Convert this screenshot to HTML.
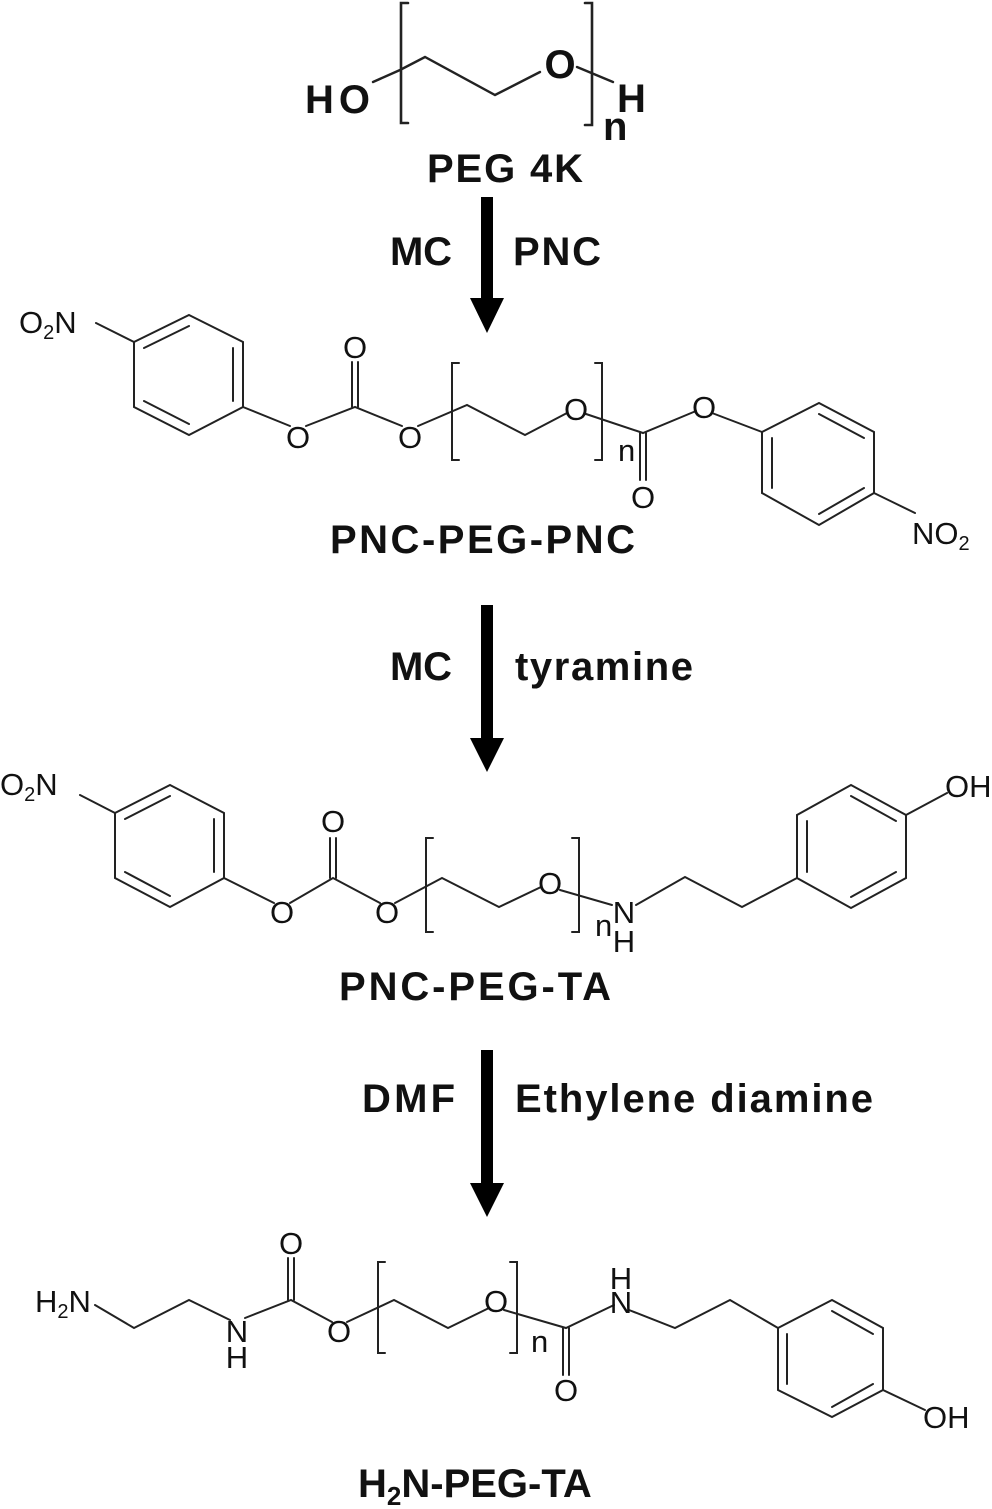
<!DOCTYPE html>
<html><head><meta charset="utf-8"><style>
html,body{margin:0;padding:0;background:#fff;}
svg{display:block;}
.b{stroke:#222;stroke-width:2;fill:none;stroke-linecap:round;}
.a{font-family:"Liberation Sans",sans-serif;font-size:31px;fill:#111;}
.t{font-family:"Liberation Sans",sans-serif;font-size:40px;font-weight:bold;fill:#111;}
.r{font-family:"Liberation Sans",sans-serif;font-size:40px;font-weight:bold;fill:#111;}
</style></head><body>
<svg width="992" height="1509" viewBox="0 0 992 1509" xmlns="http://www.w3.org/2000/svg">
<!-- PEG 4K -->
<text class="t" x="305" y="113" font-size="44" textLength="65">HO</text>
<path class="b" style="stroke-width:2.4" d="M373,82 L400,70 L425,57 L495,95 L540,72 M577,67 L613,82"/>
<path class="b" style="stroke-width:2.6" d="M408,3 L401,3 L401,123 L408,123 M585,3 L592,3 L592,125 L585,125"/>
<text class="t" x="560" y="78" text-anchor="middle" font-size="46">O</text>
<text class="t" x="617" y="112" font-size="44">H</text>
<text class="t" x="603" y="140" font-size="32">n</text>
<text class="t" x="505" y="182" text-anchor="middle" textLength="156">PEG 4K</text>

<!-- arrow 1 -->
<rect x="481" y="197" width="12" height="105" fill="#000"/>
<polygon points="470,298 504,298 487,333" fill="#000"/>
<text class="r" x="390" y="265" textLength="62">MC</text>
<text class="r" x="513" y="265" textLength="88">PNC</text>

<!-- PNC-PEG-PNC -->
<text class="a" x="19" y="333">O<tspan font-size="20" dy="6">2</tspan><tspan dy="-6">N</tspan></text>
<path class="b" d="M96,323 L134,342 M189,315 L243,342 L243,407 L189,435 L134,407 L134,342 Z M189,326 L144,348 M233,348 L233,401 M189,424 L144,401"/>
<path class="b" d="M243,407 L290,426 M306,426 L355,407 L402,426 M352,407 L352,362 M358,407 L358,362 M418,426 L467,405 L525,435 L567,413 M586,414 L643,433 L696,411 M640,433 L640,480 M646,433 L646,480 M712,413 L762,432"/>
<path class="b" d="M459,363 L452,363 L452,460 L459,460 M595,363 L602,363 L602,460 L595,460"/>
<text class="a" x="298" y="448" text-anchor="middle">O</text>
<text class="a" x="355" y="358" text-anchor="middle">O</text>
<text class="a" x="410" y="448" text-anchor="middle">O</text>
<text class="a" x="576" y="420" text-anchor="middle">O</text>
<text class="a" x="618" y="461">n</text>
<text class="a" x="643" y="508" text-anchor="middle">O</text>
<text class="a" x="704" y="418" text-anchor="middle">O</text>
<path class="b" d="M762,432 L819,403 L874,432 L874,493 L819,525 L762,493 Z M819,414 L864,438 M864,488 L819,514 M772,438 L772,488 M874,493 L915,513"/>
<text class="a" x="912" y="544">NO<tspan font-size="20" dy="6">2</tspan></text>
<text class="t" x="330" y="553" textLength="305">PNC-PEG-PNC</text>

<!-- arrow 2 -->
<rect x="481" y="605" width="12" height="137" fill="#000"/>
<polygon points="470,738 504,738 487,772" fill="#000"/>
<text class="r" x="390" y="680" textLength="62">MC</text>
<text class="r" x="515" y="680" textLength="178">tyramine</text>

<!-- PNC-PEG-TA -->
<text class="a" x="0" y="795">O<tspan font-size="20" dy="6">2</tspan><tspan dy="-6">N</tspan></text>
<path class="b" d="M80,795 L115,813 M170,785 L224,813 L224,878 L170,907 L115,878 L115,813 Z M170,796 L125,819 M214,819 L214,872 M170,896 L125,872"/>
<path class="b" d="M224,878 L274,903 M290,903 L333,878 L380,903 M330,878 L330,838 M336,878 L336,838 M395,903 L442,878 L499,907 L541,887 M560,890 L612,905 M636,905 L685,877 L742,907 L797,878"/>
<path class="b" d="M433,838 L426,838 L426,932 L433,932 M572,838 L579,838 L579,932 L572,932"/>
<text class="a" x="282" y="923" text-anchor="middle">O</text>
<text class="a" x="333" y="832" text-anchor="middle">O</text>
<text class="a" x="387" y="923" text-anchor="middle">O</text>
<text class="a" x="550" y="894" text-anchor="middle">O</text>
<text class="a" x="595" y="936">n</text>
<text class="a" x="624" y="923" text-anchor="middle">N</text>
<text class="a" x="624" y="952" text-anchor="middle">H</text>
<path class="b" d="M797,878 L797,815 L851,785 L906,815 L906,878 L851,908 Z M807,872 L807,821 M851,796 L896,821 M896,872 L851,897 M906,815 L947,793"/>
<text class="a" x="945" y="797">OH</text>
<text class="t" x="339" y="1000" textLength="272">PNC-PEG-TA</text>

<!-- arrow 3 -->
<rect x="481" y="1050" width="12" height="137" fill="#000"/>
<polygon points="470,1183 504,1183 487,1217" fill="#000"/>
<text class="r" x="362" y="1112" textLength="93">DMF</text>
<text class="r" x="515" y="1112" textLength="358">Ethylene diamine</text>

<!-- H2N-PEG-TA -->
<text class="a" x="35" y="1312">H<tspan font-size="20" dy="6">2</tspan><tspan dy="-6">N</tspan></text>
<path class="b" d="M95,1305 L134,1328 L189,1300 L230,1320 M245,1318 L291,1300 L332,1322 M288,1300 L288,1258 M294,1300 L294,1258 M347,1322 L394,1300 L448,1328 L489,1308 M504,1310 L566,1328 L614,1305 M563,1328 L563,1375 M569,1328 L569,1375 M629,1310 L675,1328 L730,1300 L778,1328"/>
<path class="b" d="M385,1262 L378,1262 L378,1353 L385,1353 M510,1262 L517,1262 L517,1353 L510,1353"/>
<text class="a" x="237" y="1342" text-anchor="middle">N</text>
<text class="a" x="237" y="1368" text-anchor="middle">H</text>
<text class="a" x="291" y="1254" text-anchor="middle">O</text>
<text class="a" x="339" y="1342" text-anchor="middle">O</text>
<text class="a" x="496" y="1312" text-anchor="middle">O</text>
<text class="a" x="531" y="1352">n</text>
<text class="a" x="566" y="1401" text-anchor="middle">O</text>
<text class="a" x="621" y="1313" text-anchor="middle">N</text>
<text class="a" x="621" y="1289" text-anchor="middle">H</text>
<path class="b" d="M778,1328 L832,1300 L883,1328 L883,1390 L832,1417 L778,1390 Z M832,1311 L873,1334 M873,1384 L832,1407 M787,1334 L787,1384 M883,1390 L925,1410"/>
<text class="a" x="923" y="1428">OH</text>
<text class="t" x="358" y="1497">H<tspan font-size="26" dy="8">2</tspan><tspan dy="-8">N-PEG-TA</tspan></text>
</svg>
</body></html>
